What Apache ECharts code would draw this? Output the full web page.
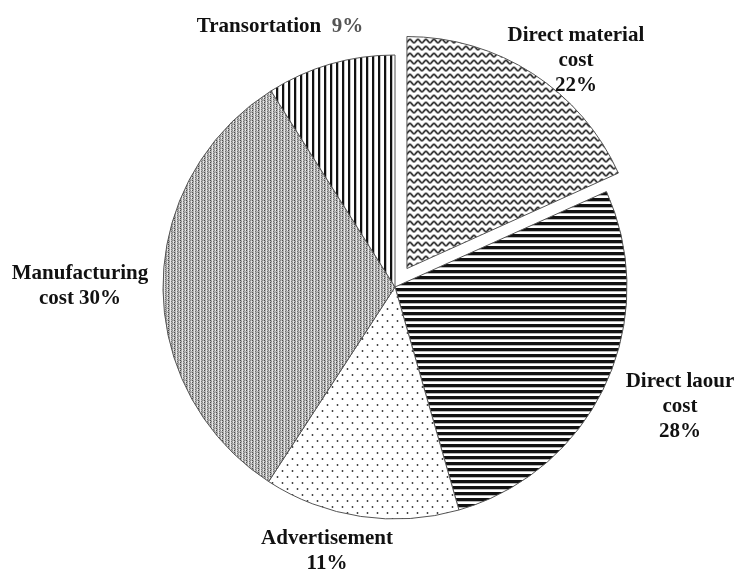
<!DOCTYPE html>
<html>
<head>
<meta charset="utf-8">
<script src="https://cdn.jsdelivr.net/npm/echarts@6/dist/echarts.min.js"></script>
<style>html,body{margin:0;padding:0;background:#fff;}#c{width:738px;height:578px;}</style>
</head>
<body>
<div id="c"></div>
<script>
// Category names as printed on the chart
var categories = ['Direct material\ncost', 'Direct laour\ncost', 'Advertisement', 'Manufacturing\ncost', 'Transortation'];
// Printed percentage labels
var percentLabels = ['22%', '28%', '11%', '30%', '9%'];
// Slice sizes as drawn (angular share, in degrees)
var sliceValues = [65.7, 98.3, 49, 114.7, 32.3];

function makeTile(w, h, draw) {
  var c = document.createElement('canvas');
  c.width = w; c.height = h;
  var ctx = c.getContext('2d');
  ctx.fillStyle = '#fff';
  ctx.fillRect(0, 0, w, h);
  draw(ctx, w, h);
  return c;
}
var wavy = makeTile(8, 7, function (ctx, w, h) {
  ctx.strokeStyle = '#1a1a1a';
  ctx.lineWidth = 1.6;
  ctx.beginPath();
  for (var x = -1; x <= w + 1; x += 0.5) {
    var y = 3.5 + 1.6 * Math.sin(x / w * Math.PI * 2);
    if (x === -1) ctx.moveTo(x, y); else ctx.lineTo(x, y);
  }
  ctx.stroke();
});
var hstripes = makeTile(4, 6, function (ctx, w, h) {
  ctx.fillStyle = '#111';
  ctx.fillRect(0, 0, w, 3);
  ctx.fillStyle = '#888';
  ctx.fillRect(0, 3, w, 0.6);
});
var dots = makeTile(10, 12, function (ctx) {
  ctx.fillStyle = '#333';
  ctx.beginPath(); ctx.arc(2.5, 3, 0.9, 0, Math.PI * 2); ctx.fill();
  ctx.beginPath(); ctx.arc(7.5, 9, 0.9, 0, Math.PI * 2); ctx.fill();
});
var dense = makeTile(6, 4, function (ctx) {
  ctx.fillStyle = '#b4b4b4';
  ctx.fillRect(0, 0, 6, 4);
  ctx.fillStyle = '#4a4a4a';
  ctx.fillRect(0, 0, 1, 1); ctx.fillRect(0, 2, 1, 1);
  ctx.fillStyle = '#707070';
  ctx.fillRect(3, 1, 1, 1); ctx.fillRect(3, 3, 1, 1);
  ctx.fillStyle = '#8a8a8a';
  ctx.fillRect(1, 1, 1, 1); ctx.fillRect(4, 0, 1, 1); ctx.fillRect(4, 2, 1, 1);
  ctx.fillStyle = '#e6e6e6';
  ctx.fillRect(2, 0, 1, 4); ctx.fillRect(5, 1, 1, 2);
});
var vstripes = makeTile(6, 4, function (ctx) {
  ctx.fillStyle = '#111';
  ctx.fillRect(0, 0, 2, 4);
  ctx.fillStyle = '#999';
  ctx.fillRect(2, 0, 0.6, 4);
});
var patterns = [wavy, hstripes, dots, dense, vstripes];
var labelPos = [[563, 40], [680, 407], [327, 551], [80, 286], [280, 27]];

var data = categories.map(function (n, i) {
  var flat = n.replace('\n', ' ');
  var text;
  if (i === 4) text = n + '  {p|' + percentLabels[i] + '}';
  else if (i === 3) text = n + ' ' + percentLabels[i];
  else text = n + '\n' + percentLabels[i];
  return {
    name: flat,
    value: sliceValues[i],
    selected: i === 0,
    itemStyle: { color: { image: patterns[i], repeat: 'repeat' } },
    label: { formatter: text }
  };
});

var chart = echarts.init(document.getElementById('c'), null, { renderer: 'canvas' });
chart.setOption({
  backgroundColor: '#fff',
  animation: false,
  series: [{
    type: 'pie',
    center: [395, 287],
    radius: 232,
    startAngle: 90,
    clockwise: true,
    selectedMode: 'single',
    selectedOffset: 22,
    silent: true,
    avoidLabelOverlap: false,
    itemStyle: { borderColor: '#555', borderWidth: 1 },
    label: {
      show: true,
      position: 'outside',
      alignTo: 'none',
      overflow: 'none',
      fontFamily: 'Liberation Serif',
      fontWeight: 'bold',
      fontSize: 21,
      lineHeight: 25,
      color: '#111',
      align: 'center',
      rich: {
        p: { fontFamily: 'Liberation Serif', fontWeight: 'bold', fontSize: 21, color: '#555' }
      }
    },
    labelLine: { show: false },
    labelLayout: function (params) {
      var p = labelPos[params.dataIndex];
      return { x: p[0], y: p[1], align: 'center', verticalAlign: 'middle', hideOverlap: false };
    },
    data: data
  }]
});
</script>
</body>
</html>
